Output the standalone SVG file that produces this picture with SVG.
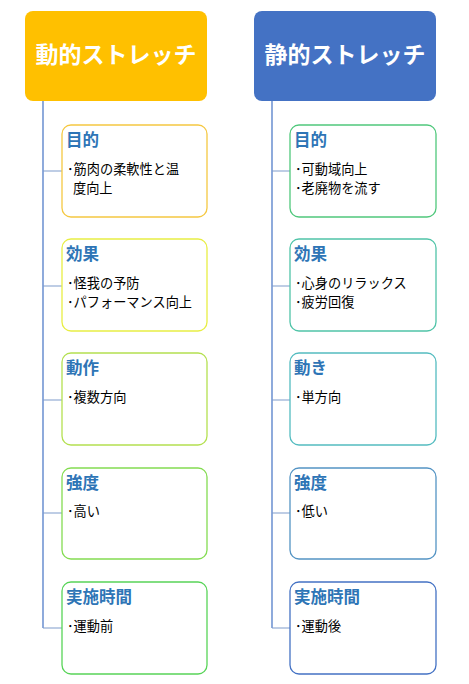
<svg xmlns="http://www.w3.org/2000/svg" width="469" height="684" viewBox="0 0 469 684">
<style>
text{font-family:"Noto Sans CJK JP","Noto Sans",sans-serif}
.hd{font-size:23px;font-weight:bold;fill:#fff}
.box{fill:#fff;stroke-width:1.3}
.tt{font-size:16.5px;font-weight:bold;fill:#2E75B6}
.bd{font-size:13.2px;fill:#000}
.ln{stroke:#4472C4;stroke-width:1.2;fill:none}
.br{stroke:#7F9CCB;stroke-width:1.2;fill:none}
</style>
<rect width="469" height="684" fill="#fff"/>
<g id="connectors">
<path class="ln" d="M43 101V628"/>
<path class="br" d="M43 171H62M43 286H62M43 400H62M43 513H62M43 628H62"/>
<path class="ln" d="M272 101V628"/>
<path class="br" d="M272 171H290M272 286H290M272 400H290M272 513H290M272 628H290"/>
</g>
<g id="dynamic">
<rect x="25" y="11" width="182" height="90" rx="8" fill="#FFC000"/>
<text class="hd" x="116" y="63" text-anchor="middle">動的ストレッチ</text>
</g>
<g id="static">
<rect x="254" y="11" width="182" height="90" rx="8" fill="#4472C4"/>
<text class="hd" x="345" y="63" text-anchor="middle">静的ストレッチ</text>
</g>
<g id="d-purpose">
<rect class="box" x="62" y="125" width="145" height="92" rx="9" stroke="#F5C842"/>
<text class="tt" x="66" y="146">目的</text>
<text class="bd" x="67" y="174">･筋肉の柔軟性と温</text>
<text class="bd" x="73" y="193">度向上</text>
</g>
<g id="d-effect">
<rect class="box" x="62" y="239" width="145" height="92" rx="9" stroke="#E8EE44"/>
<text class="tt" x="66" y="260">効果</text>
<text class="bd" x="67" y="288">･怪我の予防</text>
<text class="bd" x="67" y="307">･パフォーマンス向上</text>
</g>
<g id="d-motion">
<rect class="box" x="62" y="353" width="145" height="92" rx="9" stroke="#B4E050"/>
<text class="tt" x="66" y="374">動作</text>
<text class="bd" x="67" y="402">･複数方向</text>
</g>
<g id="d-intensity">
<rect class="box" x="62" y="468" width="145" height="91" rx="9" stroke="#84DC52"/>
<text class="tt" x="66" y="489">強度</text>
<text class="bd" x="67" y="516">･高い</text>
</g>
<g id="d-time">
<rect class="box" x="62" y="582" width="145" height="92" rx="9" stroke="#58D458"/>
<text class="tt" x="66" y="603">実施時間</text>
<text class="bd" x="67" y="631">･運動前</text>
</g>
<g id="s-purpose">
<rect class="box" x="290" y="125" width="146" height="92" rx="9" stroke="#50C87C"/>
<text class="tt" x="294" y="146">目的</text>
<text class="bd" x="295" y="174">･可動域向上</text>
<text class="bd" x="295" y="193">･老廃物を流す</text>
</g>
<g id="s-effect">
<rect class="box" x="290" y="239" width="146" height="92" rx="9" stroke="#50C4A8"/>
<text class="tt" x="294" y="260">効果</text>
<text class="bd" x="295" y="288">･心身のリラックス</text>
<text class="bd" x="295" y="307">･疲労回復</text>
</g>
<g id="s-motion">
<rect class="box" x="290" y="353" width="146" height="92" rx="9" stroke="#54BCC0"/>
<text class="tt" x="294" y="374">動き</text>
<text class="bd" x="295" y="402">･単方向</text>
</g>
<g id="s-intensity">
<rect class="box" x="290" y="468" width="146" height="91" rx="9" stroke="#5494C4"/>
<text class="tt" x="294" y="489">強度</text>
<text class="bd" x="295" y="516">･低い</text>
</g>
<g id="s-time">
<rect class="box" x="290" y="582" width="146" height="92" rx="9" stroke="#4472C4"/>
<text class="tt" x="294" y="603">実施時間</text>
<text class="bd" x="295" y="631">･運動後</text>
</g>
</svg>
